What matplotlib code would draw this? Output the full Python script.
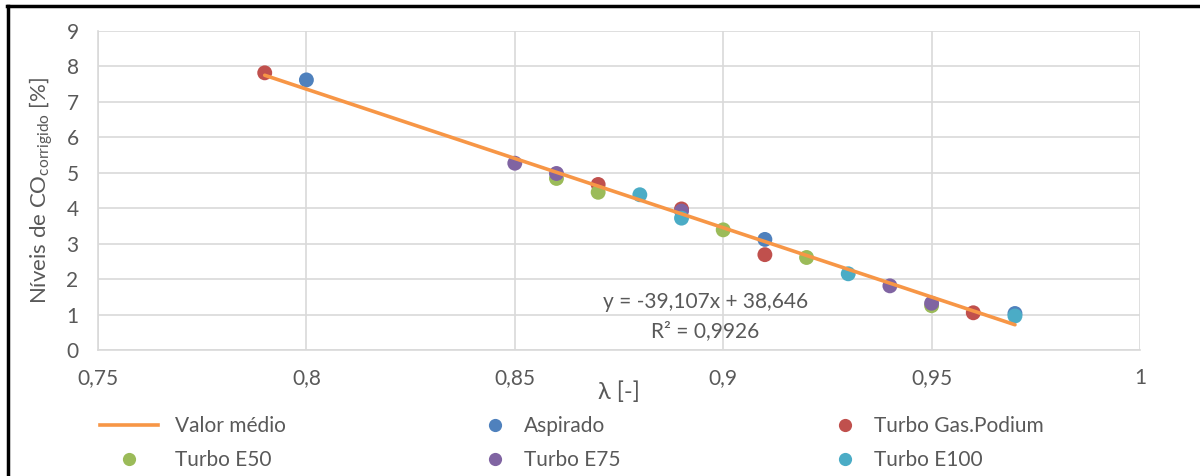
import matplotlib
matplotlib.use("Agg")
import matplotlib.pyplot as plt
from matplotlib.lines import Line2D

plt.rcParams['font.family'] = ['Lato', 'DejaVu Sans']
plt.rcParams['mathtext.fontset'] = 'custom'
plt.rcParams['mathtext.rm'] = 'Lato'
plt.rcParams['mathtext.it'] = 'Lato:italic'

# lambda / CO readings per engine configuration
aspirado_x = [0.80, 0.91, 0.97]
aspirado_y = [7.62, 3.12, 1.03]
podium_x = [0.79, 0.87, 0.89, 0.91, 0.96]
podium_y = [7.82, 4.67, 3.98, 2.69, 1.05]
e50_x = [0.86, 0.87, 0.90, 0.92, 0.95]
e50_y = [4.84, 4.45, 3.39, 2.61, 1.25]
e75_x = [0.85, 0.86, 0.89, 0.94, 0.95]
e75_y = [5.27, 4.98, 3.92, 1.81, 1.32]
e100_x = [0.88, 0.89, 0.93, 0.97]
e100_y = [4.38, 3.72, 2.15, 0.96]

# linear trendline coefficients
slope = -39.107
intercept = 38.646
r2 = 0.9926
trend_x = [0.79, 0.97]

x_ticks = [0.75, 0.80, 0.85, 0.90, 0.95, 1.00]
x_tick_labels = ["0,75", "0,8", "0,85", "0,9", "0,95", "1"]
y_ticks = list(range(0, 10))

text_col = '#595959'
grid_col = '#D9D9D9'
fs = 15

W, H = 1200, 476
fig = plt.figure(figsize=(W / 100, H / 100), dpi=100)
ax = fig.add_axes([98 / W, 1 - 350 / H, (1140 - 98) / W, (350 - 31) / H])

series = [
    ("Aspirado", aspirado_x, aspirado_y, '#4F81BD'),
    ("Turbo Gas.Podium", podium_x, podium_y, '#C0504D'),
    ("Turbo E50", e50_x, e50_y, '#9BBB59'),
    ("Turbo E75", e75_x, e75_y, '#8064A2'),
    ("Turbo E100", e100_x, e100_y, '#4BACC6'),
]
handles = {}
for i, (name, xs, ys, col) in enumerate(series):
    ax.scatter(xs, ys, s=115, color=col, edgecolors='none', zorder=3 + i)
    handles[name] = Line2D([], [], linestyle='none', marker='o', markersize=9.5,
                           markerfacecolor=col, markeredgecolor='none')

trend_y = [slope * x + intercept for x in trend_x]
ax.plot(trend_x, trend_y, color='#F79646', lw=2.6, zorder=10, solid_capstyle='round')
handles["Valor médio"] = Line2D([], [], color='#F79646', lw=2.6)

eq = "y = {:.3f}x + {:.3f}".format(slope, intercept).replace('.', ',')
ax.text(0.8957, 1.35, eq, ha='center', va='center', fontsize=fs, color=text_col)
ax.text(0.8957, 0.54, "R² = {:.4f}".format(r2).replace('.', ','),
        ha='center', va='center', fontsize=fs, color=text_col)

ax.set_xlim(0.75, 1.0)
ax.set_ylim(0, 9)
ax.set_xticks(x_ticks)
ax.set_xticklabels(x_tick_labels)
ax.set_yticks(y_ticks)
ax.tick_params(length=0, labelsize=fs, labelcolor=text_col)
ax.tick_params(axis='y', pad=14)
ax.tick_params(axis='x', pad=13)
ax.grid(True, color=grid_col, lw=1.2)
ax.set_axisbelow(True)
for side in ['top', 'right']:
    ax.spines[side].set_visible(False)
for side in ['left', 'bottom']:
    ax.spines[side].set_color(grid_col)
    ax.spines[side].set_linewidth(1.2)

ax.set_xlabel("λ [-]", fontsize=17, color=text_col, labelpad=-5)
ax.set_ylabel(r"Níveis de CO$\mathregular{_{corrigido}}$ [%]", fontsize=16,
              color=text_col, labelpad=8)

# legend: three columns, each its own two-row block
columns = [
    (["Valor médio", "Turbo E50"], 100, 2.8),
    (["Aspirado", "Turbo E75"], 483, 1.15),
    (["Turbo Gas.Podium", "Turbo E100"], 833, 1.15),
]
for names, left_px, hl in columns:
    fig.legend([handles[k] for k in names], names, ncol=1, frameon=False,
               loc='upper left', bbox_to_anchor=(left_px / W, 1 - 416 / H),
               borderpad=0, borderaxespad=0, fontsize=fs, labelcolor=text_col,
               handlelength=hl, handletextpad=0.8, labelspacing=0.68)

# outer frame edges
fig.add_artist(Line2D([7 / W, 1], [1 - 6 / H, 1 - 6 / H],
                      transform=fig.transFigure, color='black', lw=2.5))
fig.add_artist(Line2D([8 / W, 8 / W], [0, 1 - 6 / H],
                      transform=fig.transFigure, color='black', lw=2.5))

fig.savefig('out.png', dpi=100, facecolor='white')
